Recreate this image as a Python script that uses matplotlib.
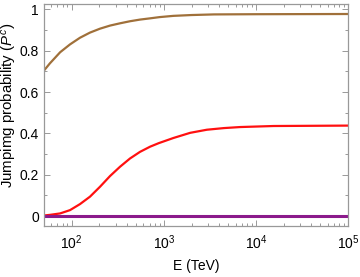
import matplotlib
matplotlib.use("Agg")
import matplotlib.pyplot as plt
from matplotlib.ticker import LogLocator, MultipleLocator, NullFormatter

plt.rcParams['font.family'] = ['Liberation Sans', 'DejaVu Sans']
plt.rcParams['mathtext.fontset'] = 'custom'
plt.rcParams['mathtext.rm'] = 'Liberation Sans'
plt.rcParams['mathtext.it'] = 'Liberation Sans:italic'

E_red = [50, 58, 75, 96, 123, 158, 203, 261, 335, 430, 552, 710, 880, 1271, 1932, 2931, 4500, 6745, 15560, 40000, 100000]
P_red = [0.003, 0.006, 0.013, 0.029, 0.058, 0.094, 0.142, 0.194, 0.239, 0.279, 0.311, 0.336, 0.353, 0.378, 0.403, 0.418, 0.426, 0.431, 0.436, 0.437, 0.438]

E_brown = [50, 58, 75, 96, 123, 158, 203, 261, 335, 430, 552, 710, 900, 1271, 2000, 3500, 10000, 100000]
P_brown = [0.704, 0.739, 0.793, 0.831, 0.863, 0.888, 0.907, 0.922, 0.933, 0.943, 0.951, 0.957, 0.963, 0.969, 0.973, 0.976, 0.977, 0.978]

E_purple = [50, 100000]
P_purple = [0.0, 0.0]

yticks = [0, 0.2, 0.4, 0.6, 0.8, 1.0]
yticklabels = ['0', '0.2', '0.4', '0.6', '0.8', '1']

fig = plt.figure(figsize=(3.6, 2.77), dpi=100)
ax = fig.add_axes([0.122, 0.184, 0.845, 0.802])

ax.plot(E_brown, P_brown, color='#A0703A', lw=1.6, solid_joinstyle='round')
ax.plot(E_red, P_red, color='#FF1010', lw=1.6, solid_joinstyle='round')
ax.plot(E_purple, P_purple, color='#8B1A8B', lw=2.2)

ax.set_xscale('log')
ax.set_xlim(50, 1e5)
ax.set_ylim(-0.048, 1.027)

ax.set_yticks(yticks)
ax.set_yticklabels(yticklabels)
ax.yaxis.set_minor_locator(MultipleLocator(0.1))
ax.xaxis.set_major_locator(LogLocator(base=10, numticks=10))
ax.xaxis.set_minor_locator(LogLocator(base=10, subs=range(2, 10), numticks=20))
ax.xaxis.set_minor_formatter(NullFormatter())

for s in ax.spines.values():
    s.set_color('#999999')
    s.set_linewidth(0.9)

ax.tick_params(which='both', direction='in', top=True, right=True, colors='#999999',
               labelcolor='black', labelsize=10, width=0.7)
ax.tick_params(which='major', length=4)
ax.tick_params(which='minor', length=2)
ax.tick_params(axis='x', pad=5)

ax.set_xlabel('E (TeV)', fontsize=10, labelpad=5)
fig.text(10 / 360, 1 - 105 / 277, 'Jumpimg probability ($P^c$)', fontsize=10.8,
         rotation=90, ha='center', va='center')

fig.savefig('out.png', dpi=100)
